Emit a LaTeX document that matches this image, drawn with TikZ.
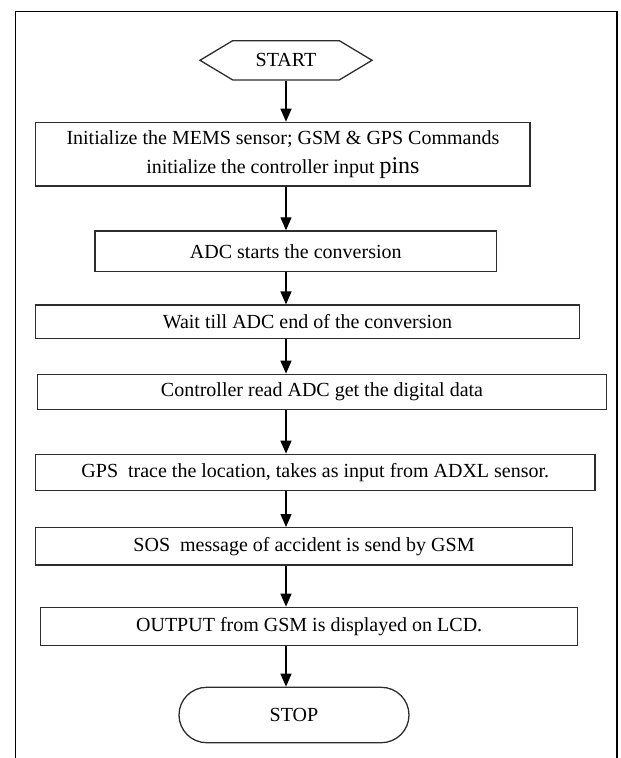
\documentclass[tikz,border=0pt]{standalone}
\usepackage{fontspec}
\setmainfont{Liberation Serif}
\usetikzlibrary{shapes.symbols, shapes.misc, arrows.meta, positioning}
\definecolor{ink}{RGB}{45, 45, 45}

\begin{document}
\begin{tikzpicture}[
            x=1pt, y=-1pt,
            font=\fontsize{20}{29}\selectfont,
            box/.style={draw=ink, line width=1.3pt, inner sep=0pt, align=center},
            arrow/.style={-{Triangle[length=13pt, width=11pt]}, line width=1.3pt, black}
        ]
            \useasboundingbox (0,0) rectangle (621,758);
            \draw[line width=1.5pt] (15.7,758) |- (617,11.7) -- (617,758);

            \node[box, shape=signal, signal to=east and west, signal pointer angle=62, minimum width=172pt, minimum height=39.3pt] (start) at (286,60.3) {START};

            \node[box, minimum width=494.3pt, minimum height=63.7pt] (init) at (282.9,154.2) {Initialize the MEMS sensor; GSM \& GPS Commands\\initialize the controller input {\fontsize{24}{29}\selectfont pins}};
            \node[box, minimum width=401.7pt, minimum height=40.7pt] (adc) at (295.8,251.3) {ADC starts the conversion};
            \node[box, minimum width=543.6pt, minimum height=33.3pt] (wait) at (307.5,321.7) {Wait till ADC end of the conversion};
            \node[box, minimum width=569.4pt, minimum height=35pt] (read) at (322,391.8) {Controller read ADC get the digital data};
            \node[box, minimum width=559.3pt, minimum height=36.4pt] (gps) at (315.3,472.5) {GPS~ trace the location, takes as input from ADXL sensor.};
            \node[box, minimum width=536.6pt, minimum height=37.3pt] (sos) at (304,546.3) {SOS~ message of accident is send by GSM};
            \node[box, minimum width=537pt, minimum height=38.4pt] (lcd) at (309.2,626.5) {OUTPUT from GSM is displayed on LCD.};

            \node[box, rounded rectangle, minimum width=230pt, minimum height=55.4pt] (stop) at (294,715) {STOP};

            \draw[arrow] (start.south) -- (start.south |- init.north);
            \draw[arrow] (init.south -| start.south) -- (adc.north -| start.south);
            \draw[arrow] (adc.south -| start.south) -- (wait.north -| start.south);
            \draw[arrow] (wait.south -| start.south) -- (read.north -| start.south);
            \draw[arrow] (read.south -| start.south) -- (gps.north -| start.south);
            \draw[arrow] (gps.south -| start.south) -- (sos.north -| start.south);
            \draw[arrow] (sos.south -| start.south) -- (lcd.north -| start.south);
            \draw[arrow] (lcd.south -| start.south) -- (stop.north -| start.south);
        \end{tikzpicture}
\end{document}
